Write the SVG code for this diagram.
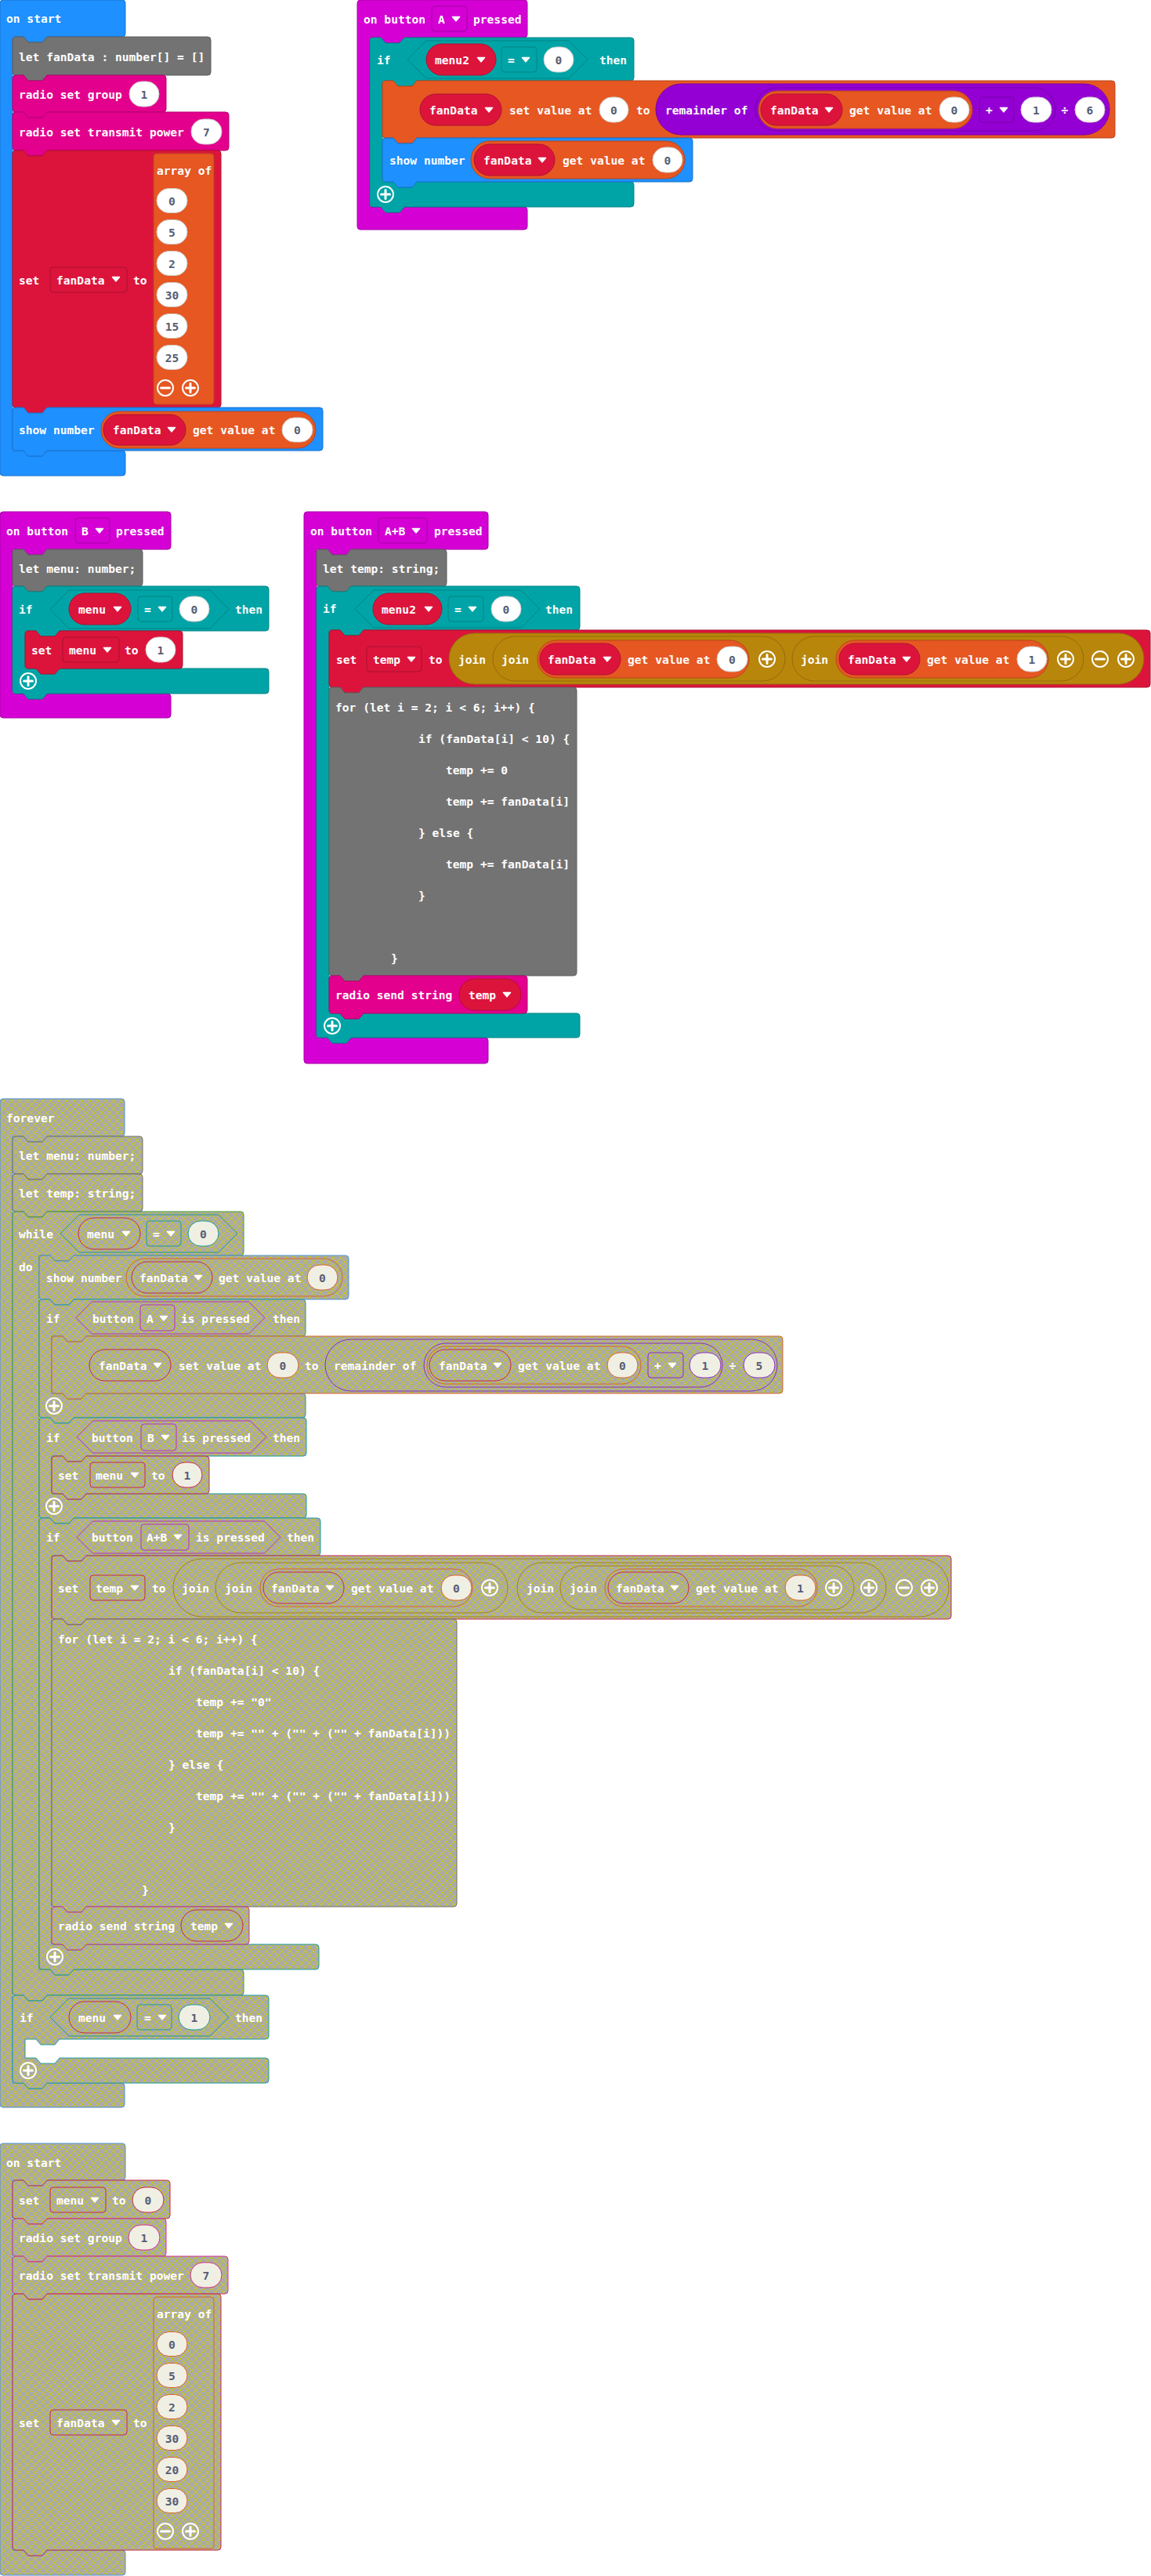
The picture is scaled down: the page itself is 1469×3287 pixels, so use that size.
<svg xmlns="http://www.w3.org/2000/svg" xmlns:xlink="http://www.w3.org/1999/xlink" width="1469" height="3287" viewBox="0 0 1469 3287">
<style>
.t{font-family:"DejaVu Sans Mono","Liberation Mono",monospace;font-weight:700;font-size:14.6px;fill:#fff;dominant-baseline:central}
.v{fill:#575E75;text-anchor:middle}
.m{text-anchor:middle}
.blue{fill:#1E90FF;stroke:#1873CC}
.grey{fill:#737373;stroke:#5E5E5E}
.pink{fill:#E3008C;stroke:#B60070}
.red{fill:#DC143C;stroke:#B01030}
.orange{fill:#E65722;stroke:#B8461B}
.mag{fill:#D400D4;stroke:#AA00AA}
.teal{fill:#00A4A6;stroke:#008385}
.purple{fill:#9400D3;stroke:#7600A9}
.gold{fill:#B8860B;stroke:#936B09}
.ov{fill:#fff;stroke:#CFCFCF}
.fd{fill:none;stroke:rgba(0,0,0,0.22)}
.d{fill:url(#dis)}
.dov{fill:#F0EFE4}
.fx{fill:none}
.sb{stroke:#4A8FD8}
.sg{stroke:#6E6E6E}
.sp{stroke:#D0308E}
.sr{stroke:#C8284A}
.so{stroke:#D8642E}
.sm{stroke:#B830B8}
.st{stroke:#1E9A9C}
.su{stroke:#8A2EC0}
.sy{stroke:#A88218}
.sl{stroke:#3E9A3E}
</style>
<defs>
<pattern id="dis" patternUnits="userSpaceOnUse" width="10" height="10">
<rect width="10" height="10" fill="#AAAAAA"/>
<path d="M0 0L10 10M10 0L0 10" stroke="#CCCC00" stroke-width="1"/>
</pattern>
<path id="dd" d="M-4.5,-2.5 L4.5,-2.5 L0,2.8 Z" fill="#fff" stroke="#fff" stroke-width="1.6" stroke-linejoin="round"/>
<g id="pl"><circle r="10" fill="none" stroke="#fff" stroke-width="2"/><path d="M-5.5,0H5.5M0,-5.5V5.5" stroke="#fff" stroke-width="3" stroke-linecap="round"/></g>
<g id="mi"><circle r="10" fill="none" stroke="#fff" stroke-width="2"/><path d="M-5.5,0H5.5" stroke="#fff" stroke-width="3" stroke-linecap="round"/></g>
</defs>

<!-- blocks snap together edge to edge, so there are no separate wires -->
<g id="connectors"></g>

<!-- ===== on start ===== -->
<g id="on-start">
<path class="blue" d="M0,4 Q0,0 4,0 H156 Q160,0 160,4 V43 Q160,47 156,47 H60 l-6,7 h-18 l-6,-7 H16 V575 H30 l6,7 h18 l6,-7 H156 Q160,575 160,579 V603 Q160,607 156,607 H4 Q0,607 0,603 Z"/>
<text class="t" x="8" y="23">on start</text>
<g id="os-let">
<path class="grey" d="M16,51 Q16,47 20,47 H30 l6,7 h18 l6,-7 H265 Q269,47 269,51 V92 Q269,96 265,96 H60 l-6,7 h-18 l-6,-7 H20 Q16,96 16,92 Z"/>
<text class="t" x="24" y="72">let fanData : number[] = []</text>
</g>
<g id="os-group">
<path class="pink" d="M16,100 Q16,96 20,96 H30 l6,7 h18 l6,-7 H208 Q212,96 212,100 V139 Q212,143 208,143 H60 l-6,7 h-18 l-6,-7 H20 Q16,143 16,139 Z"/>
<text class="t" x="24" y="120">radio set group</text>
<rect class="ov" x="165" y="104" width="38" height="32" rx="16"/><text class="t v" x="184" y="120">1</text>
</g>
<g id="os-power">
<path class="pink" d="M16,147 Q16,143 20,143 H30 l6,7 h18 l6,-7 H288 Q292,143 292,147 V188 Q292,192 288,192 H60 l-6,7 h-18 l-6,-7 H20 Q16,192 16,188 Z"/>
<text class="t" x="24" y="168">radio set transmit power</text>
<rect class="ov" x="244" y="152" width="39" height="32" rx="16"/><text class="t v" x="263.5" y="168">7</text>
</g>
<g id="os-set">
<path class="red" d="M16,196 Q16,192 20,192 H30 l6,7 h18 l6,-7 H278 Q282,192 282,196 V516 Q282,520 278,520 H60 l-6,7 h-18 l-6,-7 H20 Q16,520 16,516 Z"/>
<text class="t" x="24" y="357">set</text>
<rect class="fd" x="64" y="341" width="98" height="32" rx="4"/>
<text class="t" x="72" y="357">fanData</text><use href="#dd" x="148" y="356"/>
<text class="t" x="170" y="357">to</text>
<rect class="orange" x="196" y="196" width="77" height="320" rx="4"/>
<text class="t" x="200" y="217">array of</text>
<rect class="ov" x="200" y="240.5" width="39" height="31" rx="15.5"/><text class="t v" x="219.5" y="256">0</text>
<rect class="ov" x="200" y="280.5" width="39" height="31" rx="15.5"/><text class="t v" x="219.5" y="296">5</text>
<rect class="ov" x="200" y="320.5" width="39" height="31" rx="15.5"/><text class="t v" x="219.5" y="336">2</text>
<rect class="ov" x="200" y="360.5" width="39" height="31" rx="15.5"/><text class="t v" x="219.5" y="376">30</text>
<rect class="ov" x="200" y="400.5" width="39" height="31" rx="15.5"/><text class="t v" x="219.5" y="416">15</text>
<rect class="ov" x="200" y="440.5" width="39" height="31" rx="15.5"/><text class="t v" x="219.5" y="456">25</text>
<use href="#mi" x="211" y="495"/><use href="#pl" x="243" y="495"/>
</g>
<g id="os-show">
<path class="blue" d="M16,524 Q16,520 20,520 H30 l6,7 h18 l6,-7 H408 Q412,520 412,524 V571 Q412,575 408,575 H60 l-6,7 h-18 l-6,-7 H20 Q16,575 16,571 Z"/>
<text class="t" x="24" y="548">show number</text>
<rect class="orange" x="129" y="525" width="274" height="47" rx="23.5"/>
<rect class="red" x="132" y="529" width="105" height="39" rx="19.5"/>
<text class="t" x="144" y="548">fanData</text><use href="#dd" x="219" y="548"/>
<text class="t" x="246" y="548">get value at</text>
<rect class="ov" x="360" y="533" width="39" height="31" rx="15.5"/><text class="t v" x="379.5" y="548">0</text>
</g>
</g>

<!-- ===== on button A pressed ===== -->
<g id="on-button-a">
<path class="mag" d="M456,4 Q456,0 460,0 H669 Q673,0 673,4 V44 Q673,48 669,48 H516 l-6,7 h-18 l-6,-7 H472 V264 H486 l6,7 h18 l6,-7 H669 Q673,264 673,268 V289 Q673,293 669,293 H460 Q456,293 456,289 Z"/>
<text class="t" x="464" y="24">on button</text>
<rect class="fd" x="551" y="8" width="45" height="32" rx="4"/>
<text class="t" x="559" y="24">A</text><use href="#dd" x="582" y="24"/>
<text class="t" x="604" y="24">pressed</text>
<g id="ba-if">
<path class="teal" d="M472,52 Q472,48 476,48 H486 l6,7 h18 l6,-7 H805 Q809,48 809,52 V99 Q809,103 805,103 H532 l-6,7 h-18 l-6,-7 H488 V232 H502 l6,7 h18 l6,-7 H805 Q809,232 809,236 V260 Q809,264 805,264 H516 l-6,7 h-18 l-6,-7 H476 Q472,264 472,260 Z"/>
<text class="t" x="481" y="76">if</text>
<path class="teal" d="M520,76 L544,52 H726 L750,76 L726,100 H544 Z"/>
<rect class="red" x="544" y="56" width="89" height="40" rx="20"/>
<text class="t" x="555" y="76">menu2</text><use href="#dd" x="614" y="76"/>
<rect class="teal" x="640" y="60" width="45" height="32" rx="4"/>
<text class="t" x="648" y="76">=</text><use href="#dd" x="671" y="76"/>
<rect class="ov" x="694" y="60" width="38" height="32" rx="16"/><text class="t v" x="713" y="76">0</text>
<text class="t" x="765" y="76">then</text>
<use href="#pl" x="492" y="248"/>
</g>
<g id="ba-setvalue">
<path class="orange" d="M488,107 Q488,103 492,103 H502 l6,7 h18 l6,-7 H1419 Q1423,103 1423,107 V172 Q1423,176 1419,176 H532 l-6,7 h-18 l-6,-7 H492 Q488,176 488,172 Z"/>
<rect class="red" x="536" y="120" width="104" height="40" rx="20"/>
<text class="t" x="548" y="140">fanData</text><use href="#dd" x="624" y="140"/>
<text class="t" x="650" y="140">set value at</text>
<rect class="ov" x="765" y="124" width="37" height="32" rx="16"/><text class="t v" x="783.5" y="140">0</text>
<text class="t" x="812" y="140">to</text>
<rect class="purple" x="837" y="107" width="579" height="65" rx="32.5"/>
<text class="t" x="849" y="140">remainder of</text>
<rect class="purple" x="964" y="112" width="383" height="55" rx="27.5"/>
<rect class="orange" x="968" y="116" width="273" height="48" rx="24"/>
<rect class="red" x="971" y="120" width="104" height="40" rx="20"/>
<text class="t" x="983" y="140">fanData</text><use href="#dd" x="1058" y="140"/>
<text class="t" x="1084" y="140">get value at</text>
<rect class="ov" x="1199" y="124" width="38" height="32" rx="16"/><text class="t v" x="1218" y="140">0</text>
<rect class="purple" x="1250" y="124" width="44" height="32" rx="4"/>
<text class="t" x="1258" y="140">+</text><use href="#dd" x="1281" y="140"/>
<rect class="ov" x="1303" y="124" width="39" height="32" rx="16"/><text class="t v" x="1322.5" y="140">1</text>
<text class="t m" x="1359" y="140">÷</text>
<rect class="ov" x="1372" y="124" width="38" height="32" rx="16"/><text class="t v" x="1391" y="140">6</text>
</g>
<g id="ba-show">
<path class="blue" d="M488,180 Q488,176 492,176 H502 l6,7 h18 l6,-7 H880 Q884,176 884,180 V228 Q884,232 880,232 H532 l-6,7 h-18 l-6,-7 H492 Q488,232 488,228 Z"/>
<text class="t" x="497" y="204">show number</text>
<rect class="orange" x="601" y="180" width="273" height="48" rx="24"/>
<rect class="red" x="605" y="184" width="103" height="40" rx="20"/>
<text class="t" x="617" y="204">fanData</text><use href="#dd" x="692" y="204"/>
<text class="t" x="718" y="204">get value at</text>
<rect class="ov" x="833" y="188" width="38" height="32" rx="16"/><text class="t v" x="852" y="204">0</text>
</g>
</g>

<!-- ===== on button B pressed ===== -->
<g id="on-button-b">
<path class="mag" d="M0,657 Q0,653 4,653 H214 Q218,653 218,657 V697 Q218,701 214,701 H60 l-6,7 h-18 l-6,-7 H16 V885 H30 l6,7 h18 l6,-7 H214 Q218,885 218,889 V912 Q218,916 214,916 H4 Q0,916 0,912 Z"/>
<text class="t" x="8" y="677">on button</text>
<rect class="fd" x="96" y="661" width="44" height="32" rx="4"/>
<text class="t" x="104" y="677">B</text><use href="#dd" x="127" y="677"/>
<text class="t" x="148" y="677">pressed</text>
<g id="bb-let">
<path class="grey" d="M16,705 Q16,701 20,701 H30 l6,7 h18 l6,-7 H178 Q182,701 182,705 V744 Q182,748 178,748 H60 l-6,7 h-18 l-6,-7 H20 Q16,748 16,744 Z"/>
<text class="t" x="24" y="725">let menu: number;</text>
</g>
<g id="bb-if">
<path class="teal" d="M16,752 Q16,748 20,748 H30 l6,7 h18 l6,-7 H339 Q343,748 343,752 V801 Q343,805 339,805 H76 l-6,7 h-18 l-6,-7 H32 V853 H46 l6,7 h18 l6,-7 H339 Q343,853 343,857 V881 Q343,885 339,885 H60 l-6,7 h-18 l-6,-7 H20 Q16,885 16,881 Z"/>
<text class="t" x="24" y="777">if</text>
<path class="teal" d="M64,777.5 L88,753 H268 L292,777.5 L268,802 H88 Z"/>
<rect class="red" x="88" y="757" width="79" height="40" rx="20"/>
<text class="t" x="100" y="777">menu</text><use href="#dd" x="150" y="777"/>
<rect class="teal" x="176" y="761" width="44" height="32" rx="4"/>
<text class="t" x="184" y="777">=</text><use href="#dd" x="207" y="777"/>
<rect class="ov" x="229" y="761" width="38" height="32" rx="16"/><text class="t v" x="248" y="777">0</text>
<text class="t" x="300" y="777">then</text>
<use href="#pl" x="36" y="869"/>
</g>
<g id="bb-set">
<path class="red" d="M32,809 Q32,805 36,805 H46 l6,7 h18 l6,-7 H229 Q233,805 233,809 V849 Q233,853 229,853 H76 l-6,7 h-18 l-6,-7 H36 Q32,853 32,849 Z"/>
<text class="t" x="40" y="829">set</text>
<rect class="fd" x="80" y="813" width="72" height="32" rx="4"/>
<text class="t" x="88" y="829">menu</text><use href="#dd" x="137" y="829"/>
<text class="t" x="159" y="829">to</text>
<rect class="ov" x="186" y="813" width="38" height="32" rx="16"/><text class="t v" x="205" y="829">1</text>
</g>
</g>

<!-- ===== on button A+B pressed ===== -->
<g id="on-button-ab">
<path class="mag" d="M388,657 Q388,653 392,653 H619 Q623,653 623,657 V697 Q623,701 619,701 H448 l-6,7 h-18 l-6,-7 H404 V1324 H418 l6,7 h18 l6,-7 H619 Q623,1324 623,1328 V1353 Q623,1357 619,1357 H392 Q388,1357 388,1353 Z"/>
<text class="t" x="396" y="677">on button</text>
<rect class="fd" x="483" y="661" width="62" height="32" rx="4"/>
<text class="t" x="491" y="677">A+B</text><use href="#dd" x="531" y="677"/>
<text class="t" x="554" y="677">pressed</text>
<g id="bab-let">
<path class="grey" d="M404,705 Q404,701 408,701 H418 l6,7 h18 l6,-7 H566 Q570,701 570,705 V744 Q570,748 566,748 H448 l-6,7 h-18 l-6,-7 H408 Q404,748 404,744 Z"/>
<text class="t" x="412" y="725">let temp: string;</text>
</g>
<g id="bab-if">
<path class="teal" d="M404,752 Q404,748 408,748 H418 l6,7 h18 l6,-7 H736 Q740,748 740,752 V800 Q740,804 736,804 H464 l-6,7 h-18 l-6,-7 H420 V1293 H434 l6,7 h18 l6,-7 H736 Q740,1293 740,1297 V1320 Q740,1324 736,1324 H448 l-6,7 h-18 l-6,-7 H408 Q404,1324 404,1320 Z"/>
<text class="t" x="412" y="776">if</text>
<path class="teal" d="M453,777 L477,753 H665 L689,777 L665,801 H477 Z"/>
<rect class="red" x="476" y="757" width="88" height="40" rx="20"/>
<text class="t" x="487" y="777">menu2</text><use href="#dd" x="547" y="777"/>
<rect class="teal" x="572" y="761" width="45" height="32" rx="4"/>
<text class="t" x="580" y="777">=</text><use href="#dd" x="603" y="777"/>
<rect class="ov" x="627" y="761" width="38" height="32" rx="16"/><text class="t v" x="646" y="777">0</text>
<text class="t" x="696" y="777">then</text>
<use href="#pl" x="424" y="1309"/>
</g>
<g id="bab-settemp">
<path class="red" d="M420,808 Q420,804 424,804 H434 l6,7 h18 l6,-7 H1464 Q1468,804 1468,808 V873 Q1468,877 1464,877 H464 l-6,7 h-18 l-6,-7 H424 Q420,877 420,873 Z"/>
<text class="t" x="429" y="841">set</text>
<rect class="fd" x="468" y="825" width="70" height="32" rx="4"/>
<text class="t" x="476" y="841">temp</text><use href="#dd" x="525" y="841"/>
<text class="t" x="547" y="841">to</text>
<rect class="gold" x="573" y="808" width="887" height="65" rx="32.5"/>
<text class="t" x="585" y="841">join</text>
<rect class="gold" x="629" y="812" width="373" height="57" rx="28.5"/>
<text class="t" x="640" y="841">join</text>
<rect class="orange" x="686" y="817" width="270" height="48" rx="24"/>
<rect class="red" x="689" y="821" width="103" height="40" rx="20"/>
<text class="t" x="699" y="841">fanData</text><use href="#dd" x="775" y="841"/>
<text class="t" x="801" y="841">get value at</text>
<rect class="ov" x="915" y="825" width="39" height="32" rx="16"/><text class="t v" x="934.5" y="841">0</text>
<use href="#pl" x="979" y="841"/>
<rect class="gold" x="1011" y="812" width="372" height="57" rx="28.5"/>
<text class="t" x="1022" y="841">join</text>
<rect class="orange" x="1067" y="817" width="271" height="48" rx="24"/>
<rect class="red" x="1071" y="821" width="103" height="40" rx="20"/>
<text class="t" x="1082" y="841">fanData</text><use href="#dd" x="1157" y="841"/>
<text class="t" x="1183" y="841">get value at</text>
<rect class="ov" x="1298" y="825" width="38" height="32" rx="16"/><text class="t v" x="1317" y="841">1</text>
<use href="#pl" x="1360" y="841"/>
<use href="#mi" x="1404" y="841"/><use href="#pl" x="1437" y="841"/>
</g>
<g id="bab-for">
<path class="grey" d="M420,881 Q420,877 424,877 H434 l6,7 h18 l6,-7 H732 Q736,877 736,881 V1241 Q736,1245 732,1245 H464 l-6,7 h-18 l-6,-7 H424 Q420,1245 420,1241 Z"/>
<text class="t" x="428" y="902">for (let i = 2; i &lt; 6; i++) {</text>
<text class="t" x="534" y="942">if (fanData[i] &lt; 10) {</text>
<text class="t" x="569" y="982">temp += 0</text>
<text class="t" x="569" y="1022">temp += fanData[i]</text>
<text class="t" x="534" y="1062">} else {</text>
<text class="t" x="569" y="1102">temp += fanData[i]</text>
<text class="t" x="534" y="1142">}</text>
<text class="t" x="499" y="1222">}</text>
</g>
<g id="bab-send">
<path class="pink" d="M420,1249 Q420,1245 424,1245 H434 l6,7 h18 l6,-7 H669 Q673,1245 673,1249 V1289 Q673,1293 669,1293 H464 l-6,7 h-18 l-6,-7 H424 Q420,1293 420,1289 Z"/>
<text class="t" x="428" y="1269">radio send string</text>
<rect class="red" x="586" y="1249" width="79" height="40" rx="20"/>
<text class="t" x="598" y="1269">temp</text><use href="#dd" x="647" y="1269"/>
</g>
</g>

<!-- ===== forever (disabled) ===== -->
<g id="forever">
<path class="d sb" d="M0,1406 Q0,1402 4,1402 H155 Q159,1402 159,1406 V1446 Q159,1450 155,1450 H60 l-6,7 h-18 l-6,-7 H16 V2658 H30 l6,7 h18 l6,-7 H155 Q159,2658 159,2662 V2685 Q159,2689 155,2689 H4 Q0,2689 0,2685 Z"/>
<text class="t" x="8" y="1426">forever</text>
<g id="fv-let-menu">
<path class="d sg" d="M16,1454 Q16,1450 20,1450 H30 l6,7 h18 l6,-7 H178 Q182,1450 182,1454 V1494 Q182,1498 178,1498 H60 l-6,7 h-18 l-6,-7 H20 Q16,1498 16,1494 Z"/>
<text class="t" x="24" y="1474">let menu: number;</text>
</g>
<g id="fv-let-temp">
<path class="d sg" d="M16,1502 Q16,1498 20,1498 H30 l6,7 h18 l6,-7 H178 Q182,1498 182,1502 V1542 Q182,1546 178,1546 H60 l-6,7 h-18 l-6,-7 H20 Q16,1546 16,1542 Z"/>
<text class="t" x="24" y="1522">let temp: string;</text>
</g>
<g id="fv-while">
<path class="d sl" d="M16,1550 Q16,1546 20,1546 H30 l6,7 h18 l6,-7 H307 Q311,1546 311,1550 V1598 Q311,1602 307,1602 H94 l-6,7 h-18 l-6,-7 H50 V2513 H64 l6,7 h18 l6,-7 H307 Q311,2513 311,2517 V2542 Q311,2546 307,2546 H60 l-6,7 h-18 l-6,-7 H20 Q16,2546 16,2542 Z"/>
<text class="t" x="24" y="1574">while</text>
<path class="d st" d="M77,1574 L101,1550 H279 L303,1574 L279,1598 H101 Z"/>
<rect class="d sr" x="100" y="1554" width="79" height="40" rx="20"/>
<text class="t" x="111" y="1574">menu</text><use href="#dd" x="161" y="1574"/>
<rect class="fx st" x="187" y="1558" width="44" height="32" rx="4"/>
<text class="t" x="195" y="1574">=</text><use href="#dd" x="218" y="1574"/>
<rect class="dov st" x="240" y="1558" width="39" height="32" rx="16"/><text class="t v" x="259.5" y="1574">0</text>
<text class="t" x="24" y="1616">do</text>
</g>
<g id="fv-show">
<path class="d sb" d="M50,1606 Q50,1602 54,1602 H64 l6,7 h18 l6,-7 H441 Q445,1602 445,1606 V1654 Q445,1658 441,1658 H94 l-6,7 h-18 l-6,-7 H54 Q50,1658 50,1654 Z"/>
<text class="t" x="59" y="1630">show number</text>
<rect class="d so" x="161" y="1606" width="276" height="48" rx="24"/>
<rect class="d sr" x="168" y="1610" width="103" height="40" rx="20"/>
<text class="t" x="178" y="1630">fanData</text><use href="#dd" x="253" y="1630"/>
<text class="t" x="279" y="1630">get value at</text>
<rect class="dov so" x="392" y="1614" width="39" height="32" rx="16"/><text class="t v" x="411.5" y="1630">0</text>
</g>
<g id="fv-if-a">
<path class="d st" d="M50,1662 Q50,1658 54,1658 H64 l6,7 h18 l6,-7 H386 Q390,1658 390,1662 V1701 Q390,1705 386,1705 H110 l-6,7 h-18 l-6,-7 H66 V1778 H80 l6,7 h18 l6,-7 H386 Q390,1778 390,1782 V1805 Q390,1809 386,1809 H94 l-6,7 h-18 l-6,-7 H54 Q50,1809 50,1805 Z"/>
<text class="t" x="59" y="1682">if</text>
<path class="d sm" d="M97,1681.5 L117.5,1661 H317.5 L338,1681.5 L317.5,1702 H117.5 Z"/>
<text class="t" x="118" y="1682">button</text>
<rect class="fx sm" x="179" y="1665" width="44" height="33" rx="4"/>
<text class="t" x="187" y="1682">A</text><use href="#dd" x="209" y="1682"/>
<text class="t" x="231" y="1682">is pressed</text>
<text class="t" x="348" y="1682">then</text>
<use href="#pl" x="69" y="1794"/>
</g>
<g id="fv-setvalue">
<path class="d so" d="M66,1709 Q66,1705 70,1705 H80 l6,7 h18 l6,-7 H995 Q999,1705 999,1709 V1774 Q999,1778 995,1778 H110 l-6,7 h-18 l-6,-7 H70 Q66,1778 66,1774 Z"/>
<rect class="d sr" x="114" y="1722" width="104" height="40" rx="20"/>
<text class="t" x="126" y="1742">fanData</text><use href="#dd" x="201" y="1742"/>
<text class="t" x="228" y="1742">set value at</text>
<rect class="dov so" x="341" y="1726" width="40" height="32" rx="16"/><text class="t v" x="361" y="1742">0</text>
<text class="t" x="389" y="1742">to</text>
<rect class="d su" x="415" y="1709" width="577" height="66" rx="33"/>
<text class="t" x="426" y="1742">remainder of</text>
<rect class="d su" x="541" y="1714" width="381" height="56" rx="28"/>
<rect class="d so" x="545" y="1718" width="273" height="48" rx="24"/>
<rect class="d sr" x="548" y="1722" width="104" height="40" rx="20"/>
<text class="t" x="560" y="1742">fanData</text><use href="#dd" x="635" y="1742"/>
<text class="t" x="661" y="1742">get value at</text>
<rect class="dov so" x="775" y="1726" width="39" height="32" rx="16"/><text class="t v" x="794.5" y="1742">0</text>
<rect class="fx su" x="827" y="1726" width="45" height="32" rx="4"/>
<text class="t" x="835" y="1742">+</text><use href="#dd" x="858" y="1742"/>
<rect class="dov su" x="880" y="1726" width="40" height="32" rx="16"/><text class="t v" x="900" y="1742">1</text>
<text class="t m" x="935" y="1742">÷</text>
<rect class="dov su" x="949" y="1726" width="40" height="32" rx="16"/><text class="t v" x="969" y="1742">5</text>
</g>
<g id="fv-if-b">
<path class="d st" d="M50,1813 Q50,1809 54,1809 H64 l6,7 h18 l6,-7 H387 Q391,1809 391,1813 V1854 Q391,1858 387,1858 H110 l-6,7 h-18 l-6,-7 H66 V1906 H80 l6,7 h18 l6,-7 H387 Q391,1906 391,1910 V1933 Q391,1937 387,1937 H94 l-6,7 h-18 l-6,-7 H54 Q50,1937 50,1933 Z"/>
<text class="t" x="59" y="1834">if</text>
<path class="d sm" d="M98,1833.5 L118.5,1813 H319.5 L340,1833.5 L319.5,1854 H118.5 Z"/>
<text class="t" x="117" y="1834">button</text>
<rect class="fx sm" x="180" y="1817" width="45" height="34" rx="4"/>
<text class="t" x="188" y="1834">B</text><use href="#dd" x="211" y="1834"/>
<text class="t" x="232" y="1834">is pressed</text>
<text class="t" x="348" y="1834">then</text>
<use href="#pl" x="69" y="1922"/>
</g>
<g id="fv-set-menu">
<path class="d sr" d="M66,1862 Q66,1858 70,1858 H80 l6,7 h18 l6,-7 H263 Q267,1858 267,1862 V1902 Q267,1906 263,1906 H110 l-6,7 h-18 l-6,-7 H70 Q66,1906 66,1902 Z"/>
<text class="t" x="74" y="1882">set</text>
<rect class="fx sr" x="115" y="1866" width="70" height="32" rx="4"/>
<text class="t" x="122" y="1882">menu</text><use href="#dd" x="172" y="1882"/>
<text class="t" x="193" y="1882">to</text>
<rect class="dov sr" x="220" y="1866" width="38" height="32" rx="16"/><text class="t v" x="239" y="1882">1</text>
</g>
<g id="fv-if-ab">
<path class="d st" d="M50,1941 Q50,1937 54,1937 H64 l6,7 h18 l6,-7 H405 Q409,1937 409,1941 V1981 Q409,1985 405,1985 H110 l-6,7 h-18 l-6,-7 H66 V2481 H80 l6,7 h18 l6,-7 H403 Q407,2481 407,2485 V2509 Q407,2513 403,2513 H94 l-6,7 h-18 l-6,-7 H54 Q50,2513 50,2509 Z"/>
<text class="t" x="59" y="1961">if</text>
<path class="d sm" d="M98,1961.5 L118.5,1941 H337.5 L358,1961.5 L337.5,1982 H118.5 Z"/>
<text class="t" x="117" y="1961">button</text>
<rect class="fx sm" x="180" y="1945" width="61" height="33" rx="4"/>
<text class="t" x="187" y="1961">A+B</text><use href="#dd" x="227" y="1961"/>
<text class="t" x="250" y="1961">is pressed</text>
<text class="t" x="366" y="1961">then</text>
<use href="#pl" x="70" y="2497"/>
</g>
<g id="fv-set-temp">
<path class="d sr" d="M66,1989 Q66,1985 70,1985 H80 l6,7 h18 l6,-7 H1210 Q1214,1985 1214,1989 V2062 Q1214,2066 1210,2066 H110 l-6,7 h-18 l-6,-7 H70 Q66,2066 66,2062 Z"/>
<text class="t" x="74" y="2026">set</text>
<rect class="fx sr" x="115" y="2010" width="70" height="32" rx="4"/>
<text class="t" x="122" y="2026">temp</text><use href="#dd" x="172" y="2026"/>
<text class="t" x="194" y="2026">to</text>
<rect class="d sy" x="221" y="1989" width="990" height="74" rx="37"/>
<text class="t" x="232" y="2026">join</text>
<rect class="d sy" x="275" y="1994" width="373" height="64" rx="32"/>
<text class="t" x="287" y="2026">join</text>
<rect class="d so" x="332" y="2002" width="271" height="48" rx="24"/>
<rect class="d sr" x="336" y="2006" width="103" height="40" rx="20"/>
<text class="t" x="346" y="2026">fanData</text><use href="#dd" x="421" y="2026"/>
<text class="t" x="448" y="2026">get value at</text>
<rect class="dov so" x="563" y="2010" width="39" height="32" rx="16"/><text class="t v" x="582.5" y="2026">0</text>
<use href="#pl" x="625" y="2026"/>
<rect class="d sy" x="660" y="1994" width="471" height="64" rx="32"/>
<text class="t" x="672" y="2026">join</text>
<rect class="d sy" x="715" y="1998" width="375" height="56" rx="28"/>
<text class="t" x="727" y="2026">join</text>
<rect class="d so" x="772" y="2002" width="271" height="48" rx="24"/>
<rect class="d sr" x="776" y="2006" width="103" height="40" rx="20"/>
<text class="t" x="786" y="2026">fanData</text><use href="#dd" x="861" y="2026"/>
<text class="t" x="888" y="2026">get value at</text>
<rect class="dov so" x="1002" y="2010" width="39" height="32" rx="16"/><text class="t v" x="1021.5" y="2026">1</text>
<use href="#pl" x="1064" y="2026"/>
<use href="#pl" x="1109" y="2026"/>
<use href="#mi" x="1154" y="2026"/><use href="#pl" x="1186" y="2026"/>
</g>
<g id="fv-for">
<path class="d sg" d="M66,2070 Q66,2066 70,2066 H80 l6,7 h18 l6,-7 H579 Q583,2066 583,2070 V2429 Q583,2433 579,2433 H110 l-6,7 h-18 l-6,-7 H70 Q66,2433 66,2429 Z"/>
<text class="t" x="74" y="2091">for (let i = 2; i &lt; 6; i++) {</text>
<text class="t" x="215" y="2131">if (fanData[i] &lt; 10) {</text>
<text class="t" x="250" y="2171">temp += "0"</text>
<text class="t" x="250" y="2211">temp += "" + ("" + ("" + fanData[i]))</text>
<text class="t" x="215" y="2251">} else {</text>
<text class="t" x="250" y="2291">temp += "" + ("" + ("" + fanData[i]))</text>
<text class="t" x="215" y="2331">}</text>
<text class="t" x="181" y="2411">}</text>
</g>
<g id="fv-send">
<path class="d sp" d="M66,2437 Q66,2433 70,2433 H80 l6,7 h18 l6,-7 H314 Q318,2433 318,2437 V2477 Q318,2481 314,2481 H110 l-6,7 h-18 l-6,-7 H70 Q66,2481 66,2477 Z"/>
<text class="t" x="74" y="2457">radio send string</text>
<rect class="d sr" x="231" y="2437" width="79" height="40" rx="20"/>
<text class="t" x="243" y="2457">temp</text><use href="#dd" x="292" y="2457"/>
</g>
<g id="fv-if-menu">
<path class="d st" d="M16,2550 Q16,2546 20,2546 H30 l6,7 h18 l6,-7 H339 Q343,2546 343,2550 V2598 Q343,2602 339,2602 H76 l-6,7 h-18 l-6,-7 H32 V2626 H46 l6,7 h18 l6,-7 H339 Q343,2626 343,2630 V2654 Q343,2658 339,2658 H60 l-6,7 h-18 l-6,-7 H20 Q16,2658 16,2654 Z"/>
<text class="t" x="25" y="2574">if</text>
<path class="d st" d="M64,2574 L88,2550 H268 L292,2574 L268,2598 H88 Z"/>
<rect class="d sr" x="88" y="2554" width="79" height="40" rx="20"/>
<text class="t" x="100" y="2574">menu</text><use href="#dd" x="150" y="2574"/>
<rect class="fx st" x="175" y="2558" width="44" height="32" rx="4"/>
<text class="t" x="184" y="2574">=</text><use href="#dd" x="207" y="2574"/>
<rect class="dov st" x="228" y="2558" width="40" height="32" rx="16"/><text class="t v" x="248" y="2574">1</text>
<text class="t" x="300" y="2574">then</text>
<use href="#pl" x="36" y="2642"/>
</g>
</g>

<!-- ===== on start (disabled) ===== -->
<g id="on-start-2">
<path class="d sb" d="M0,2739 Q0,2735 4,2735 H156 Q160,2735 160,2739 V2778 Q160,2782 156,2782 H60 l-6,7 h-18 l-6,-7 H16 V3254 H30 l6,7 h18 l6,-7 H156 Q160,3254 160,3258 V3282 Q160,3286 156,3286 H4 Q0,3286 0,3282 Z"/>
<text class="t" x="8" y="2759">on start</text>
<g id="os2-set-menu">
<path class="d sr" d="M16,2786 Q16,2782 20,2782 H30 l6,7 h18 l6,-7 H213 Q217,2782 217,2786 V2827 Q217,2831 213,2831 H60 l-6,7 h-18 l-6,-7 H20 Q16,2831 16,2827 Z"/>
<text class="t" x="24" y="2807">set</text>
<rect class="fx sr" x="64" y="2791" width="71" height="32" rx="4"/>
<text class="t" x="72" y="2807">menu</text><use href="#dd" x="121" y="2807"/>
<text class="t" x="143" y="2807">to</text>
<rect class="dov sr" x="169" y="2791" width="40" height="32" rx="16"/><text class="t v" x="189" y="2807">0</text>
</g>
<g id="os2-group">
<path class="d sp" d="M16,2835 Q16,2831 20,2831 H30 l6,7 h18 l6,-7 H208 Q212,2831 212,2835 V2875 Q212,2879 208,2879 H60 l-6,7 h-18 l-6,-7 H20 Q16,2879 16,2875 Z"/>
<text class="t" x="24" y="2855">radio set group</text>
<rect class="dov sp" x="164" y="2839" width="40" height="32" rx="16"/><text class="t v" x="184" y="2855">1</text>
</g>
<g id="os2-power">
<path class="d sp" d="M16,2883 Q16,2879 20,2879 H30 l6,7 h18 l6,-7 H287 Q291,2879 291,2883 V2923 Q291,2927 287,2927 H60 l-6,7 h-18 l-6,-7 H20 Q16,2927 16,2923 Z"/>
<text class="t" x="24" y="2903">radio set transmit power</text>
<rect class="dov sp" x="243" y="2887" width="40" height="32" rx="16"/><text class="t v" x="263" y="2903">7</text>
</g>
<g id="os2-set-array">
<path class="d sr" d="M16,2931 Q16,2927 20,2927 H30 l6,7 h18 l6,-7 H278 Q282,2927 282,2931 V3250 Q282,3254 278,3254 H60 l-6,7 h-18 l-6,-7 H20 Q16,3254 16,3250 Z"/>
<text class="t" x="24" y="3091">set</text>
<rect class="fx sr" x="64" y="3075" width="98" height="32" rx="4"/>
<text class="t" x="72" y="3091">fanData</text><use href="#dd" x="148" y="3091"/>
<text class="t" x="170" y="3091">to</text>
<rect class="d so" x="196" y="2931" width="77" height="321" rx="4"/>
<text class="t" x="200" y="2952">array of</text>
<rect class="dov so" x="200" y="2975.5" width="39" height="31" rx="15.5"/><text class="t v" x="219.5" y="2991">0</text>
<rect class="dov so" x="200" y="3015.5" width="39" height="31" rx="15.5"/><text class="t v" x="219.5" y="3031">5</text>
<rect class="dov so" x="200" y="3055.5" width="39" height="31" rx="15.5"/><text class="t v" x="219.5" y="3071">2</text>
<rect class="dov so" x="200" y="3095.5" width="39" height="31" rx="15.5"/><text class="t v" x="219.5" y="3111">30</text>
<rect class="dov so" x="200" y="3135.5" width="39" height="31" rx="15.5"/><text class="t v" x="219.5" y="3151">20</text>
<rect class="dov so" x="200" y="3175.5" width="39" height="31" rx="15.5"/><text class="t v" x="219.5" y="3191">30</text>
<use href="#mi" x="211" y="3230"/><use href="#pl" x="243" y="3230"/>
</g>
</g>
</svg>
